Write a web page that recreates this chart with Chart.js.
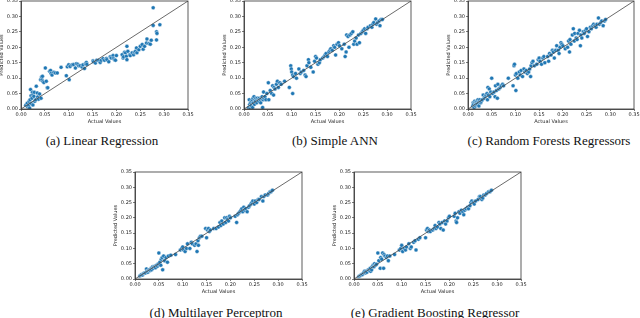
<!DOCTYPE html>
<html><head><meta charset="utf-8">
<script src="https://cdn.jsdelivr.net/npm/chart.js@4"></script>
<style>
html,body{margin:0;padding:0;width:640px;height:318px;overflow:hidden;background:#fff;position:relative}
canvas{position:absolute}
.cap{position:absolute;font-family:"Liberation Serif",serif;font-size:13px;color:#111;white-space:nowrap;transform:translate(-50%,-50%)}
</style></head><body>
<script>
// ---- data ----
const tickValues = [0, 0.05, 0.10, 0.15, 0.20, 0.25, 0.30, 0.35];
const identityLine = [0, 0.35];
const panelCaptions = ["(a) Linear Regression", "(b) Simple ANN", "(c) Random Forests Regressors", "(d) Multilayer Perceptron", "(e) Gradient Boosting Regressor"];
const xAxisTitle = "Actual Values";
const yAxisTitle = "Predicted Values";

const linearRegression = [[0.010,0.012],[0.013,0.019],[0.014,0.007],[0.016,0.011],[0.017,0.025],[0.018,0.003],[0.019,0.030],[0.020,0.063],[0.021,0.043],[0.022,0.017],[0.023,0.035],[0.024,0.054],[0.025,0.013],[0.025,0.046],[0.027,0.041],[0.028,0.054],[0.029,0.025],[0.031,0.030],[0.032,0.074],[0.034,0.052],[0.035,0.039],[0.037,0.032],[0.039,0.049],[0.041,0.095],[0.042,0.035],[0.043,0.104],[0.044,0.095],[0.045,0.106],[0.046,0.089],[0.048,0.086],[0.051,0.133],[0.053,0.090],[0.055,0.069],[0.056,0.069],[0.060,0.122],[0.062,0.125],[0.063,0.115],[0.065,0.110],[0.069,0.119],[0.072,0.117],[0.076,0.117],[0.084,0.135],[0.095,0.108],[0.097,0.137],[0.100,0.143],[0.101,0.095],[0.103,0.138],[0.107,0.143],[0.110,0.144],[0.114,0.133],[0.116,0.147],[0.119,0.145],[0.121,0.140],[0.124,0.140],[0.128,0.136],[0.130,0.143],[0.133,0.131],[0.135,0.147],[0.137,0.151],[0.138,0.145],[0.151,0.156],[0.152,0.153],[0.156,0.149],[0.159,0.158],[0.163,0.157],[0.166,0.151],[0.168,0.158],[0.172,0.163],[0.175,0.158],[0.179,0.164],[0.180,0.160],[0.184,0.153],[0.187,0.169],[0.189,0.165],[0.193,0.173],[0.194,0.164],[0.196,0.160],[0.198,0.158],[0.200,0.173],[0.212,0.176],[0.214,0.165],[0.215,0.169],[0.217,0.184],[0.219,0.182],[0.221,0.171],[0.222,0.160],[0.222,0.203],[0.224,0.187],[0.228,0.176],[0.229,0.173],[0.233,0.182],[0.236,0.176],[0.238,0.184],[0.240,0.187],[0.242,0.198],[0.243,0.182],[0.247,0.192],[0.250,0.203],[0.254,0.209],[0.256,0.194],[0.259,0.203],[0.263,0.214],[0.264,0.227],[0.268,0.212],[0.271,0.210],[0.273,0.223],[0.277,0.328],[0.277,0.271],[0.284,0.250],[0.285,0.245],[0.284,0.224],[0.291,0.273]];

const simpleANN = [[0.010,0.005],[0.011,0.030],[0.012,0.015],[0.013,0.000],[0.014,0.020],[0.015,0.010],[0.016,0.025],[0.017,0.030],[0.018,0.005],[0.019,0.035],[0.020,0.020],[0.021,0.040],[0.022,0.015],[0.023,0.030],[0.024,0.025],[0.025,0.035],[0.027,0.020],[0.028,0.035],[0.030,0.030],[0.031,0.025],[0.032,0.035],[0.034,0.030],[0.035,0.020],[0.036,0.035],[0.038,0.040],[0.039,0.005],[0.040,0.030],[0.041,0.055],[0.042,0.035],[0.044,0.040],[0.046,0.030],[0.048,0.050],[0.051,0.085],[0.052,0.030],[0.055,0.060],[0.058,0.050],[0.060,0.075],[0.062,0.045],[0.063,0.070],[0.065,0.065],[0.068,0.080],[0.070,0.090],[0.072,0.070],[0.075,0.085],[0.078,0.080],[0.085,0.090],[0.095,0.070],[0.098,0.140],[0.099,0.130],[0.100,0.120],[0.102,0.050],[0.102,0.110],[0.104,0.105],[0.108,0.115],[0.110,0.100],[0.115,0.130],[0.118,0.115],[0.120,0.120],[0.125,0.125],[0.128,0.110],[0.130,0.105],[0.132,0.140],[0.135,0.160],[0.136,0.150],[0.140,0.135],[0.145,0.120],[0.148,0.155],[0.150,0.170],[0.152,0.165],[0.155,0.145],[0.158,0.150],[0.160,0.160],[0.165,0.165],[0.168,0.170],[0.170,0.175],[0.172,0.180],[0.175,0.170],[0.178,0.185],[0.180,0.190],[0.182,0.195],[0.185,0.190],[0.188,0.205],[0.190,0.200],[0.192,0.175],[0.195,0.210],[0.198,0.215],[0.200,0.205],[0.205,0.195],[0.210,0.210],[0.212,0.170],[0.214,0.185],[0.215,0.240],[0.218,0.235],[0.220,0.200],[0.222,0.240],[0.225,0.245],[0.228,0.250],[0.230,0.210],[0.232,0.220],[0.235,0.230],[0.237,0.210],[0.240,0.240],[0.242,0.215],[0.245,0.245],[0.248,0.250],[0.250,0.255],[0.253,0.260],[0.255,0.245],[0.258,0.260],[0.260,0.265],[0.265,0.270],[0.268,0.265],[0.270,0.275],[0.272,0.280],[0.276,0.292],[0.278,0.275],[0.280,0.280],[0.283,0.285],[0.285,0.270],[0.287,0.290],[0.290,0.290]];

const randomForests = [[0.010,0.010],[0.011,0.020],[0.012,0.015],[0.013,0.005],[0.014,0.025],[0.015,0.020],[0.016,0.010],[0.017,0.015],[0.018,0.020],[0.019,0.025],[0.020,0.015],[0.021,0.030],[0.022,0.020],[0.023,0.010],[0.024,0.025],[0.025,0.030],[0.027,0.020],[0.028,0.025],[0.030,0.030],[0.032,0.045],[0.034,0.035],[0.036,0.040],[0.038,0.045],[0.040,0.050],[0.041,0.030],[0.042,0.070],[0.043,0.045],[0.045,0.065],[0.046,0.040],[0.048,0.055],[0.050,0.100],[0.052,0.050],[0.055,0.055],[0.057,0.040],[0.058,0.075],[0.060,0.060],[0.062,0.035],[0.063,0.080],[0.065,0.065],[0.068,0.070],[0.070,0.075],[0.073,0.080],[0.075,0.075],[0.085,0.100],[0.095,0.075],[0.097,0.140],[0.098,0.145],[0.100,0.110],[0.101,0.060],[0.102,0.115],[0.105,0.100],[0.108,0.120],[0.110,0.110],[0.112,0.125],[0.115,0.105],[0.118,0.130],[0.120,0.120],[0.123,0.125],[0.125,0.115],[0.128,0.120],[0.130,0.130],[0.132,0.105],[0.133,0.140],[0.135,0.150],[0.137,0.155],[0.140,0.140],[0.145,0.145],[0.148,0.160],[0.150,0.165],[0.152,0.155],[0.155,0.145],[0.158,0.165],[0.160,0.170],[0.162,0.150],[0.168,0.170],[0.170,0.155],[0.172,0.180],[0.175,0.175],[0.178,0.190],[0.180,0.185],[0.182,0.165],[0.185,0.190],[0.187,0.205],[0.190,0.190],[0.192,0.180],[0.194,0.200],[0.196,0.215],[0.198,0.210],[0.200,0.205],[0.205,0.195],[0.210,0.200],[0.212,0.220],[0.214,0.185],[0.215,0.225],[0.217,0.210],[0.220,0.240],[0.222,0.260],[0.224,0.220],[0.225,0.245],[0.228,0.230],[0.230,0.225],[0.232,0.245],[0.235,0.255],[0.237,0.205],[0.238,0.240],[0.240,0.230],[0.243,0.250],[0.245,0.245],[0.248,0.255],[0.250,0.260],[0.252,0.235],[0.255,0.250],[0.258,0.265],[0.260,0.260],[0.263,0.270],[0.265,0.275],[0.268,0.270],[0.270,0.265],[0.272,0.275],[0.275,0.295],[0.277,0.275],[0.280,0.280],[0.282,0.285],[0.285,0.270],[0.288,0.285],[0.290,0.290]];

const multilayerPerceptron = [[0.010,0.010],[0.012,0.012],[0.014,0.015],[0.016,0.013],[0.018,0.018],[0.020,0.020],[0.022,0.020],[0.024,0.033],[0.025,0.025],[0.027,0.022],[0.028,0.027],[0.030,0.030],[0.032,0.028],[0.034,0.035],[0.035,0.030],[0.037,0.040],[0.038,0.035],[0.040,0.040],[0.042,0.042],[0.043,0.037],[0.045,0.045],[0.047,0.042],[0.048,0.048],[0.050,0.085],[0.050,0.050],[0.052,0.055],[0.054,0.045],[0.055,0.065],[0.057,0.070],[0.058,0.030],[0.060,0.075],[0.062,0.060],[0.065,0.070],[0.068,0.055],[0.070,0.075],[0.075,0.078],[0.085,0.080],[0.095,0.095],[0.098,0.100],[0.100,0.105],[0.102,0.095],[0.105,0.090],[0.108,0.100],[0.110,0.115],[0.115,0.100],[0.118,0.120],[0.120,0.115],[0.125,0.110],[0.128,0.115],[0.130,0.090],[0.132,0.125],[0.133,0.110],[0.135,0.135],[0.137,0.140],[0.140,0.140],[0.148,0.165],[0.150,0.135],[0.152,0.160],[0.154,0.165],[0.156,0.155],[0.158,0.160],[0.165,0.165],[0.170,0.165],[0.175,0.170],[0.178,0.185],[0.180,0.175],[0.182,0.190],[0.185,0.180],[0.188,0.200],[0.190,0.185],[0.192,0.200],[0.194,0.195],[0.196,0.190],[0.198,0.205],[0.200,0.200],[0.210,0.205],[0.213,0.185],[0.215,0.210],[0.217,0.215],[0.220,0.220],[0.222,0.225],[0.224,0.230],[0.226,0.220],[0.228,0.235],[0.230,0.225],[0.232,0.230],[0.235,0.220],[0.238,0.235],[0.240,0.240],[0.243,0.245],[0.245,0.250],[0.247,0.255],[0.250,0.245],[0.252,0.255],[0.255,0.250],[0.258,0.260],[0.260,0.260],[0.265,0.270],[0.268,0.255],[0.270,0.270],[0.273,0.275],[0.278,0.275],[0.280,0.280],[0.283,0.285],[0.285,0.285],[0.288,0.290]];

const gradientBoosting = [[0.010,0.008],[0.012,0.010],[0.014,0.012],[0.016,0.015],[0.018,0.015],[0.020,0.020],[0.022,0.025],[0.024,0.020],[0.025,0.025],[0.027,0.022],[0.030,0.030],[0.032,0.028],[0.034,0.035],[0.035,0.025],[0.037,0.030],[0.038,0.040],[0.040,0.045],[0.042,0.040],[0.043,0.050],[0.045,0.045],[0.047,0.048],[0.050,0.085],[0.052,0.060],[0.055,0.035],[0.056,0.070],[0.058,0.065],[0.060,0.085],[0.062,0.035],[0.063,0.080],[0.065,0.075],[0.068,0.070],[0.070,0.075],[0.072,0.060],[0.075,0.075],[0.085,0.080],[0.095,0.095],[0.098,0.100],[0.100,0.110],[0.102,0.090],[0.105,0.100],[0.108,0.095],[0.110,0.105],[0.115,0.115],[0.118,0.100],[0.120,0.105],[0.125,0.120],[0.128,0.125],[0.130,0.095],[0.135,0.130],[0.138,0.135],[0.150,0.135],[0.152,0.160],[0.154,0.165],[0.156,0.155],[0.158,0.160],[0.160,0.155],[0.165,0.160],[0.168,0.165],[0.170,0.175],[0.172,0.165],[0.175,0.170],[0.178,0.185],[0.180,0.180],[0.182,0.165],[0.185,0.185],[0.187,0.160],[0.190,0.190],[0.192,0.180],[0.195,0.190],[0.198,0.200],[0.200,0.205],[0.210,0.205],[0.212,0.215],[0.214,0.190],[0.215,0.185],[0.217,0.200],[0.220,0.220],[0.222,0.215],[0.225,0.225],[0.228,0.220],[0.230,0.210],[0.232,0.225],[0.235,0.230],[0.238,0.235],[0.240,0.230],[0.243,0.240],[0.245,0.250],[0.247,0.255],[0.250,0.250],[0.252,0.245],[0.255,0.255],[0.260,0.260],[0.263,0.270],[0.265,0.270],[0.268,0.260],[0.270,0.265],[0.272,0.275],[0.275,0.275],[0.278,0.280],[0.282,0.285],[0.285,0.285],[0.288,0.290]];

const panelSeries = [linearRegression, simpleANN, randomForests, multilayerPerceptron, gradientBoosting];

// ---- layout (pixel positions of each plot area) ----
const plotRects = [
  {l:21, t:1, r:188, b:109, cx:102, cy:141},
  {l:244, t:1, r:411, b:109, cx:335, cy:141},
  {l:468, t:1, r:634, b:109, cx:549, cy:141},
  {l:135, t:172, r:302, b:279, cx:216, cy:313},
  {l:354, t:172, r:521, b:279, cx:435, cy:313}
];
const YW = 22, PT = 8, PR = 10, XH = 16;
const ink = '#222';
const tickFont = {size:5, family:'DejaVu Sans'};

const framePlugin = {
  id:'frame',
  afterDraw(chart){
    const a = chart.chartArea, c = chart.ctx;
    c.save(); c.strokeStyle = '#333'; c.lineWidth = 0.8;
    c.strokeRect(a.left, a.top, a.right - a.left, a.bottom - a.top);
    c.restore();
  }
};

function axis(titleText, isX){
  return {
    type:'linear', min:0, max:0.35,
    afterBuildTicks: s => { s.ticks = tickValues.map(v => ({value:v})); },
    afterFit: s => { if (isX) s.height = XH; else s.width = YW; },
    ticks:{font:tickFont, color:ink, padding:1, maxRotation:0, autoSkip:false, callback:v => Number(v).toFixed(2)},
    grid:{drawOnChartArea:false, drawTicks:true, tickLength:2, color:ink, lineWidth:0.6},
    border:{display:true, color:'#333', width:0.8},
    title:{display:true, text:titleText, font:tickFont, color:ink, padding:0}
  };
}

panelSeries.forEach((pts, i) => {
  const r = plotRects[i];
  const cv = document.createElement('canvas');
  const w = YW + (r.r - r.l) + PR, h = PT + (r.b - r.t) + XH;
  cv.width = w; cv.height = h;
  cv.style.left = (r.l - YW) + 'px'; cv.style.top = (r.t - PT) + 'px';
  cv.style.width = w + 'px'; cv.style.height = h + 'px';
  document.body.appendChild(cv);
  new Chart(cv, {
    type:'scatter',
    data:{datasets:[
      {type:'line', data: identityLine.map(v => ({x:v, y:v})), borderColor:'#444', borderWidth:0.8, pointRadius:0, showLine:true, fill:false},
      {data: pts.map(p => ({x:p[0], y:p[1]})), backgroundColor:'#1f77b4', borderColor:'#ffffff', borderWidth:0.4, pointRadius:2}
    ]},
    options:{
      responsive:false, animation:false, devicePixelRatio:1,
      layout:{padding:{left:0, top:PT, right:PR, bottom:0}},
      plugins:{legend:{display:false}, tooltip:{enabled:false}},
      scales:{x: axis(xAxisTitle, true), y: axis(yAxisTitle, false)}
    },
    plugins:[framePlugin]
  });
  const cap = document.createElement('div');
  cap.className = 'cap';
  cap.textContent = panelCaptions[i];
  cap.style.left = r.cx + 'px'; cap.style.top = r.cy + 'px';
  document.body.appendChild(cap);
});
</script>
</body></html>
